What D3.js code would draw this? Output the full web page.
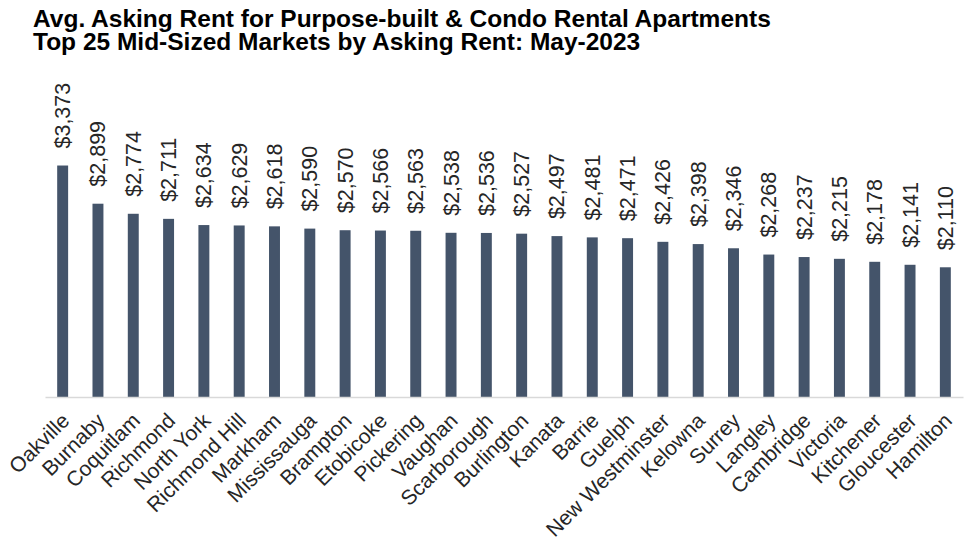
<!DOCTYPE html>
<html>
<head>
<meta charset="utf-8">
<script src="https://cdn.jsdelivr.net/npm/d3@7"></script>
<style>
  html, body { margin: 0; padding: 0; background: #ffffff; }
  svg { display: block; }
</style>
</head>
<body>
<svg id="chart" width="980" height="549"></svg>
<script>
const titleLines = [
  "Avg. Asking Rent for Purpose-built & Condo Rental Apartments",
  "Top 25 Mid-Sized Markets by Asking Rent: May-2023"
];
const markets = ["Oakville","Burnaby","Coquitlam","Richmond","North York","Richmond Hill","Markham",
  "Mississauga","Brampton","Etobicoke","Pickering","Vaughan","Scarborough","Burlington","Kanata",
  "Barrie","Guelph","New Westminster","Kelowna","Surrey","Langley","Cambridge","Victoria",
  "Kitchener","Gloucester","Hamilton"];
const rents = [3373,2899,2774,2711,2634,2629,2618,2590,2570,2566,2563,2538,2536,2527,2497,
  2481,2471,2426,2398,2346,2268,2237,2215,2178,2141,2110];
const yDomain = [500, 4000];

const svg = d3.select("#chart");
const font = "'Liberation Sans', Arial, sans-serif";

// Title (single text element, two lines)
const title = svg.append("text")
  .attr("font-family", font)
  .attr("font-weight", "bold")
  .attr("font-size", 24.5)
  .attr("fill", "#000");
title.selectAll("tspan").data(titleLines).join("tspan")
  .attr("x", 33)
  .attr("y", (d, i) => 26.7 + i * 23.4)
  .text(d => d);

const x = d3.scaleBand().domain(markets).range([45, 963]).paddingInner(0.69).paddingOuter(0.345);
const y = d3.scaleLinear().domain(yDomain).range([397, 115]);

const data = markets.map((m, i) => ({ m, v: rents[i] }));

// Bars
svg.append("g").selectAll("rect").data(data).join("rect")
  .attr("x", d => x(d.m))
  .attr("width", x.bandwidth())
  .attr("y", d => y(d.v))
  .attr("height", d => y(yDomain[0]) - y(d.v))
  .attr("fill", "#44546a");

// Axis
const xAxis = d3.axisBottom(x).tickSize(0).tickFormat("");
const axisG = svg.append("g").attr("transform", `translate(0,${y(yDomain[0])})`).call(xAxis);
axisG.select(".domain").attr("stroke", "#d9d9d9").attr("stroke-width", 1.5);

// Category labels
svg.append("g").selectAll("text").data(data).join("text")
  .attr("transform", d => `translate(${x(d.m) + x.bandwidth() / 2 + 8},${y(yDomain[0]) + 25}) rotate(-45)`)
  .attr("text-anchor", "end")
  .attr("font-family", font)
  .attr("font-size", 21)
  .attr("fill", "#262626")
  .text(d => d.m);

// Value labels
const fmt = d3.format("$,");
svg.append("g").selectAll("text").data(data).join("text")
  .attr("transform", d => `translate(${x(d.m) + x.bandwidth() / 2},${y(d.v) - 17}) rotate(-90)`)
  .attr("dy", "0.35em")
  .attr("font-family", font)
  .attr("font-size", 21.5)
  .attr("fill", "#262626")
  .text(d => fmt(d.v));
</script>
</body>
</html>
